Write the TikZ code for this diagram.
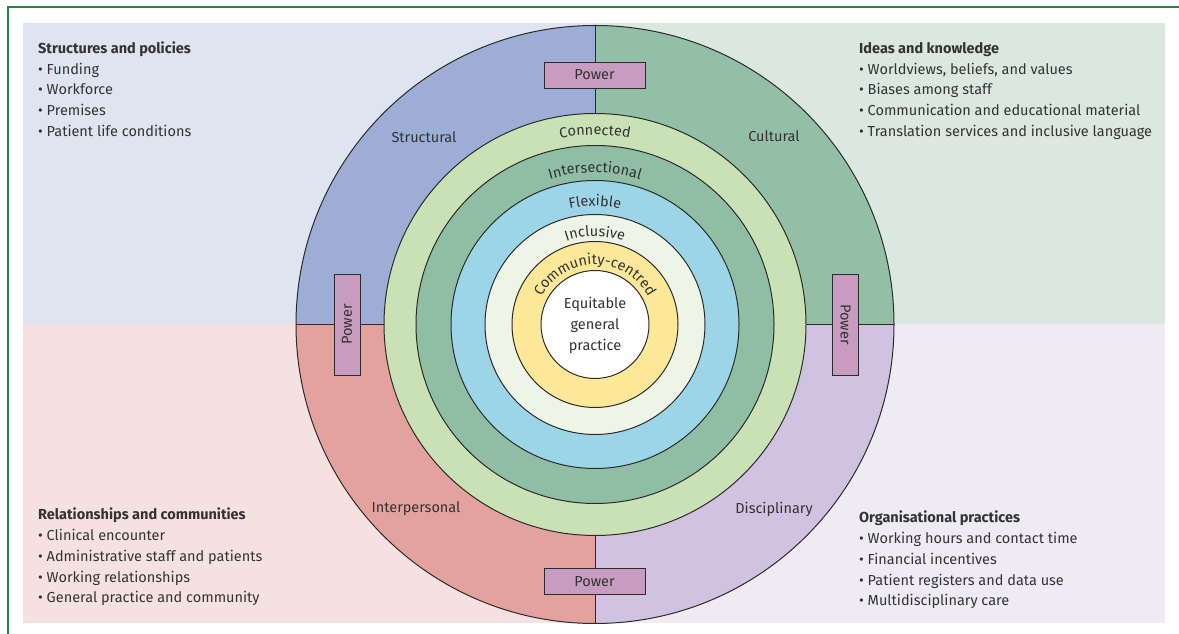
\documentclass[tikz,border=0pt]{standalone}
\usepackage{fontspec}
\setmainfont{Fira Sans}
\usetikzlibrary{decorations.text}
\definecolor{frameg}{HTML}{2D7D46}
\definecolor{bgTL}{HTML}{DEE4F0}
\definecolor{bgTR}{HTML}{DAE8E1}
\definecolor{bgBL}{HTML}{F5E2E0}
\definecolor{bgBR}{HTML}{EEEBF3}
\definecolor{secTL}{HTML}{9DADD6}
\definecolor{secTR}{HTML}{93BFA7}
\definecolor{secBL}{HTML}{E3A29E}
\definecolor{secBR}{HTML}{D0C2E0}
\definecolor{powerc}{HTML}{C89BC1}
\definecolor{ringA}{HTML}{C9E1B5}
\definecolor{ringB}{HTML}{8FBEA4}
\definecolor{ringC}{HTML}{9DD5E8}
\definecolor{ringD}{HTML}{EEF5E7}
\definecolor{ringE}{HTML}{FDE89A}
\definecolor{txt}{HTML}{333333}
\definecolor{linec}{HTML}{2B2B2B}
\newcommand\bodyfont{\fontsize{14.5}{16}\selectfont}
\begin{document}
\begin{tikzpicture}[x=1pt,y=1pt,
  ringc/.style={draw=linec, line width=1pt},
  divider/.style={draw=linec, line width=1pt},
  powerbox/.style={draw=linec, fill=powerc, line width=0.9pt, minimum width=101pt, minimum height=26pt, inner sep=0pt, font=\bodyfont, text=txt},
  head/.style={anchor=base west, inner sep=0pt, font=\bodyfont\bfseries, text=txt},
  item/.style={anchor=base west, inner sep=0pt, font=\bodyfont, text=txt},
  seclabel/.style={inner sep=0pt, font=\bodyfont, text=txt},
  ringtext/.style={decorate, decoration={text along path, text align=center, text={#1}}}
]
\useasboundingbox (0,0) rectangle (1179,634);
\fill[white] (0,0) rectangle (1179,634);
% frame
\draw[frameg, line width=1.5pt] (8,0) -- (8,627) -- (1179,627);
% background quadrants
\fill[bgTL] (23,309.5) rectangle (595,611);
\fill[bgTR] (595,309.5) rectangle (1165,611);
\fill[bgBL] (23,11) rectangle (595,309.5);
\fill[bgBR] (595,11) rectangle (1165,309.5);
\coordinate (C) at (595,309.5);
% sectors
\begin{scope}
  \clip (C) circle (299);
  \fill[secTL] (C) rectangle ++(-300,300);
  \fill[secTR] (C) rectangle ++(300,300);
  \fill[secBL] (C) rectangle ++(-300,-300);
  \fill[secBR] (C) rectangle ++(300,-300);
\end{scope}
\draw[ringc] (C) circle (299);
% dividers
\coordinate (dTo) at (595,608.5);
\coordinate (dTi) at (595,520.5);
\coordinate (dBo) at (595,10.5);
\coordinate (dBi) at (595,98.5);
\coordinate (dLo) at (296,309.5);
\coordinate (dLi) at (384,309.5);
\coordinate (dRo) at (894,309.5);
\coordinate (dRi) at (806,309.5);
\draw[divider] (dTo) -- (dTi);
\draw[divider] (dBo) -- (dBi);
\draw[divider] (dLo) -- (dLi);
\draw[divider] (dRo) -- (dRi);
% rings
\filldraw[ringc, fill=ringA] (C) circle (211);
\filldraw[ringc, fill=ringB] (C) circle (179);
\filldraw[ringc, fill=ringC] (C) circle (144);
\filldraw[ringc, fill=ringD] (C) circle (110);
\filldraw[ringc, fill=ringE] (C) circle (83);
\filldraw[ringc, fill=white] (C) circle (54);
% ring texts
\path[ringtext={|\bodyfont\color{txt}|Connected}] ([shift={(179:189.5)}]C) arc[start angle=179, end angle=1, radius=189.5];
\path[ringtext={|\bodyfont\color{txt}|Intersectional}] ([shift={(179:152)}]C) arc[start angle=179, end angle=1, radius=152];
\path[ringtext={|\bodyfont\color{txt}|Flexible}] ([shift={(179:118.5)}]C) arc[start angle=179, end angle=1, radius=118.5];
\path[ringtext={|\bodyfont\color{txt}|Inclusive}] ([shift={(179:88)}]C) arc[start angle=179, end angle=1, radius=88];
\path[ringtext={|\bodyfont\color{txt}|Community-centred}] ([shift={(179:60)}]C) arc[start angle=179, end angle=1, radius=60];
\node[align=center, font=\fontsize{14.5}{21}\selectfont, text=txt, inner sep=0pt] (core) at (595,308.5) {Equitable\\general\\practice};
% power boxes
\node[powerbox] (pT) at (594.5,559) {Power};
\node[powerbox] (pB) at (594.5,52.5) {Power};
\node[powerbox, rotate=90] (pL) at (347,309.5) {Power};
\node[powerbox, rotate=-90] (pR) at (845.5,309.5) {Power};
% sector labels
\node[seclabel] (sS) at (424,497) {Structural};
\node[seclabel] (sC) at (774,498) {Cultural};
\node[seclabel] (sI) at (416,125) {Interpersonal};
\node[seclabel] (sD) at (774,125) {Disciplinary};
% lists
\node[head] (tlh) at (38,580.5) {Structures and policies};
\node[item] (tl1) at (38,559.8) {• Funding};
\node[item] (tl2) at (38,539.1) {• Workforce};
\node[item] (tl3) at (38,518.4) {• Premises};
\node[item] (tl4) at (38,497.7) {• Patient life conditions};
\node[head] (trh) at (859,580.5) {Ideas and knowledge};
\node[item] (tr1) at (859,559.8) {• Worldviews, beliefs, and values};
\node[item] (tr2) at (859,539.1) {• Biases among staff};
\node[item] (tr3) at (859,518.4) {• Communication and educational material};
\node[item] (tr4) at (859,497.7) {• Translation services and inclusive language};
\node[head] (blh) at (38,114) {Relationships and communities};
\node[item] (bl1) at (38,93.3) {• Clinical encounter};
\node[item] (bl2) at (38,72.6) {• Administrative staff and patients};
\node[item] (bl3) at (38,51.9) {• Working relationships};
\node[item] (bl4) at (38,31.2) {• General practice and community};
\node[head] (brh) at (859,111) {Organisational practices};
\node[item] (br1) at (859,90.3) {• Working hours and contact time};
\node[item] (br2) at (859,69.6) {• Financial incentives};
\node[item] (br3) at (859,48.9) {• Patient registers and data use};
\node[item] (br4) at (859,28.2) {• Multidisciplinary care};
\end{tikzpicture}
\end{document}
